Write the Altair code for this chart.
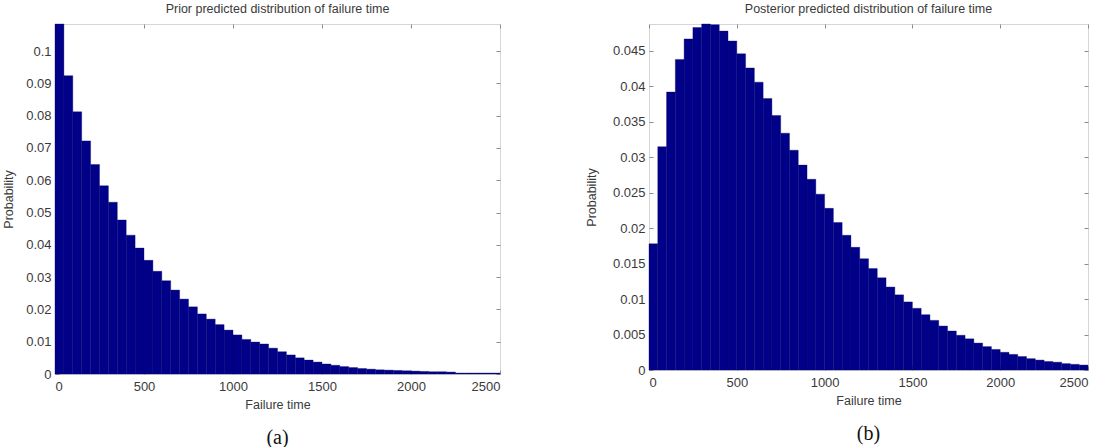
import altair as alt
import pandas as pd

# ---- data ----
bin_width = 50
bin_start = [i * bin_width for i in range(50)]

prior_prob = [
    0.1084, 0.0924, 0.0812, 0.0722, 0.0649, 0.0583, 0.0532, 0.0477, 0.0430, 0.0390,
    0.0352, 0.0318, 0.0289, 0.0260, 0.0232, 0.0208, 0.0186, 0.0170, 0.0153, 0.0136,
    0.0121, 0.0107, 0.0099, 0.0093, 0.0080, 0.0069, 0.0059, 0.0050, 0.0043, 0.0037,
    0.0031, 0.0027, 0.0023, 0.0020, 0.0017, 0.0015, 0.0013, 0.0012, 0.0011, 0.0010,
    0.0009, 0.0008, 0.0007, 0.0007, 0.0006, 0.0003, 0.0003, 0.0003, 0.0003, 0.0003,
]

posterior_prob = [
    0.0178, 0.0315, 0.0392, 0.0438, 0.0467, 0.0483, 0.0488, 0.0487, 0.0478, 0.0464,
    0.0446, 0.0426, 0.0406, 0.0383, 0.0359, 0.0334, 0.0310, 0.0289, 0.0269, 0.0248,
    0.0228, 0.0208, 0.0190, 0.0173, 0.0157, 0.0143, 0.0130, 0.0117, 0.0106, 0.0096,
    0.0087, 0.0078, 0.0070, 0.0062, 0.0055, 0.0049, 0.0044, 0.0038, 0.0033, 0.0029,
    0.0025, 0.0022, 0.0019, 0.0016, 0.0014, 0.0012, 0.0011, 0.0009, 0.0008, 0.0007,
]

x_ticks = [0, 500, 1000, 1500, 2000, 2500]
prior_y_ticks = [0, 0.01, 0.02, 0.03, 0.04, 0.05, 0.06, 0.07, 0.08, 0.09, 0.1]
post_y_ticks = [0, 0.005, 0.01, 0.015, 0.02, 0.025, 0.03, 0.035, 0.04, 0.045]

prior_title = "Prior predicted distribution of failure time"
post_title = "Posterior predicted distribution of failure time"

FONT = "Liberation Sans"
BAR = "#000088"
TICK = "#8c8c8c"
TXT = "#3a3a3a"


def tick_axis(orient, values):
    return alt.Axis(orient=orient, values=values, ticks=True, tickSize=4,
                    tickColor=TICK, tickWidth=1, labels=False, domain=False,
                    grid=False, title=None, offset=-4)


def panel(probs, ymax, yticks, title, tag, w, h, ytitle_pad):
    df = pd.DataFrame({
        "start": bin_start,
        "end": [s + bin_width for s in bin_start],
        "zero": [0] * len(bin_start),
        "p": probs,
    })
    xs = alt.Scale(domain=[0, 2500], nice=False, zero=False)
    ys = alt.Scale(domain=[0, ymax], nice=False, zero=False)
    base = alt.Chart(df)
    bars = base.mark_rect(color=BAR, stroke="#000066", strokeWidth=0.35).encode(
        x=alt.X("start:Q", scale=xs,
                axis=alt.Axis(orient="bottom", values=x_ticks, ticks=False, domain=False,
                              grid=False, labelPadding=6, title="Failure time",
                              titlePadding=5, format="d")),
        x2="end:Q",
        y=alt.Y("p:Q", scale=ys,
                axis=alt.Axis(orient="left", values=yticks, ticks=False, domain=False,
                              grid=False, labelPadding=4, title="Probability",
                              titlePadding=ytitle_pad, format="~g")),
        y2="zero:Q",
    )
    ghost_a = base.mark_point(opacity=0).encode(
        x=alt.X("start:Q", scale=xs, axis=tick_axis("top", x_ticks)),
        y=alt.Y("p:Q", scale=ys, axis=tick_axis("right", yticks)),
    )
    ghost_b = base.mark_point(opacity=0).encode(
        x=alt.X("start:Q", scale=xs, axis=tick_axis("bottom", x_ticks)),
        y=alt.Y("p:Q", scale=ys, axis=tick_axis("left", yticks)),
    )
    lab = alt.Chart(pd.DataFrame({"t": [tag]})).mark_text(
        font="Liberation Serif", fontSize=20, color="#111111", baseline="middle"
    ).encode(x=alt.value(w / 2), y=alt.value(h + 64), text="t:N")
    return alt.layer(bars, ghost_a, ghost_b, lab).resolve_axis(
        x="independent", y="independent"
    ).properties(
        width=w, height=h,
        title=alt.TitleParams(title, font=FONT, fontSize=12.5, fontWeight="normal",
                              color=TXT, offset=6, anchor="middle"),
    )


left = panel(prior_prob, 0.1084, prior_y_ticks, prior_title, "(a)", 445, 350, 10)
right = panel(posterior_prob, 0.0488, post_y_ticks, post_title, "(b)", 439, 346, 14)

chart = alt.hconcat(left, right, spacing=149, bounds="flush").properties(
    padding={"left": 2, "top": 2, "right": 0, "bottom": 0}
).configure_view(stroke="#d6d6d6", strokeWidth=1).configure_axis(
    labelFont=FONT, labelFontSize=13, labelColor=TXT,
    titleFont=FONT, titleFontSize=12.5, titleFontWeight="normal", titleColor=TXT,
)

chart.save("out.html", embed_options={"renderer": "svg", "actions": False})
